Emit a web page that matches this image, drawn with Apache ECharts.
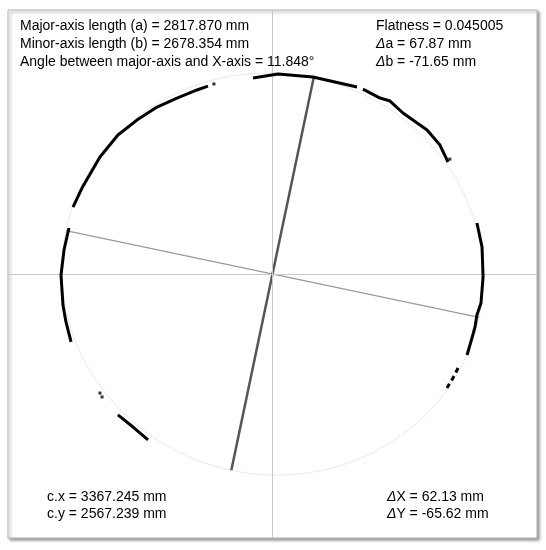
<!DOCTYPE html>
<html>
<head>
<meta charset="utf-8">
<script src="https://cdn.jsdelivr.net/npm/echarts@6/dist/echarts.min.js"></script>
<style>
  html, body { margin: 0; padding: 0; background: #fff; }
  #chart { width: 546px; height: 550px; }
</style>
</head>
<body>
<div id="chart"></div>
<script>
// ellipse fit results (mm)
var majorLen = 2817.870;
var minorLen = 2678.354;
var angleDeg = 11.848;

// measured points, mm relative to fitted centre (y grows downward)
var arcTop1 = [[-130, -1309], [37, -1335], [270, -1315], [564, -1249]];
var arcTop2 = [[604, -1235], [718, -1175], [785, -1155], [871, -1075], [1032, -961], [1118, -861], [1172, -748]];
var arcUpperLeft = [[-1332, -447], [-1272, -574], [-1152, -781], [-1032, -928], [-905, -1028], [-771, -1115], [-638, -1175], [-504, -1229], [-431, -1255]];
var arcLeft = [[-1359, -307], [-1392, -160], [-1412, 7], [-1399, 207], [-1379, 320], [-1345, 454]];
var arcRight = [[1365, -341], [1399, -180], [1406, 20], [1392, 194], [1365, 274], [1352, 354], [1332, 427], [1299, 541]];
var arcRightLower = [[1239, 628], [1205, 694], [1165, 761]];
var arcLowerLeft = [[-1032, 941], [-931, 1022], [-831, 1108]];
var loneDots = [[1184, -767], [-391, -1269], [-1152, 795], [-1138, 821]];

var leftLines = [
  "Major-axis length (a) = 2817.870 mm",
  "Minor-axis length (b) = 2678.354 mm",
  "Angle between major-axis and X-axis = 11.848°"
];
var rightLines = ["Flatness = 0.045005", "{d|Δ}a = 67.87 mm", "{d|Δ}b = -71.65 mm"];
var centreLines = ["c.x = 3367.245 mm", "c.y = 2567.239 mm"];
var deltaLines = ["{d|Δ}X = 62.13 mm", "{d|Δ}Y = -65.62 mm"];

var chart = echarts.init(document.getElementById("chart"));

var th = angleDeg * Math.PI / 180;
var a = majorLen / 2, b = minorLen / 2;

// fitted outline
var outline = [];
for (var t = 0; t <= 360; t += 2) {
  var r = t * Math.PI / 180;
  var u = a * Math.cos(r), v = b * Math.sin(r);
  outline.push([u * Math.cos(th) - v * Math.sin(th), u * Math.sin(th) + v * Math.cos(th)]);
}
var majorAxis = [[-a * Math.cos(th), -a * Math.sin(th)], [a * Math.cos(th), a * Math.sin(th)]];
var minorAxis = [[b * Math.sin(th), -b * Math.cos(th)], [-b * Math.sin(th), b * Math.cos(th)]];

var font = "'Liberation Sans', Arial, sans-serif";
var rich = { d: { fontStyle: "italic", fontSize: 14, fontFamily: font, fill: "#000" } };

function textItems(lines, x, y0, step) {
  return lines.map(function (s, i) {
    return {
      type: "text",
      left: x,
      top: y0 + i * step,
      z: 100,
      style: { text: s, fontSize: 14, fontFamily: font, fill: "#000", rich: rich }
    };
  });
}

var arcs = [arcTop1, arcTop2, arcUpperLeft, arcLeft, arcRight, arcLowerLeft];
var series = [
  {
    type: "line",
    data: outline,
    symbol: "none",
    silent: true,
    lineStyle: { color: "#d4d4d4", width: 1, type: "dotted" },
    markLine: {
      silent: true,
      symbol: "none",
      label: { show: false },
      lineStyle: { color: "#c8c8c8", width: 1, type: "solid" },
      data: [{ xAxis: 0 }, { yAxis: 0 }]
    }
  },
  {
    type: "line",
    data: majorAxis,
    symbol: "none",
    lineStyle: { color: "#9a9a9a", width: 1.3 }
  },
  {
    type: "line",
    data: minorAxis,
    symbol: "none",
    lineStyle: { color: "#555", width: 2.5 }
  }
];
arcs.forEach(function (arc) {
  series.push({
    type: "line",
    data: arc,
    symbol: "none",
    z: 5,
    lineStyle: { color: "#000", width: 3, join: "round" }
  });
});
series.push({
  type: "line",
  data: arcRightLower,
  symbol: "none",
  z: 5,
  lineStyle: { color: "#000", width: 3, type: [5, 4] }
});
series.push({
  type: "scatter",
  data: loneDots,
  symbol: "rect",
  symbolSize: 3,
  z: 5,
  itemStyle: { color: "#000" }
});

var option = {
  animation: false,
  grid: {
    left: 8, top: 10, width: 529, height: 528,
    show: true,
    backgroundColor: "#fff",
    borderColor: "#b4b4b4",
    borderWidth: 1,
    shadowColor: "rgba(0,0,0,0.4)",
    shadowBlur: 3,
    shadowOffsetX: 2,
    shadowOffsetY: 2
  },
  xAxis: {
    type: "value", min: -1766, max: 1766,
    axisLine: { show: false }, axisTick: { show: false },
    axisLabel: { show: false }, splitLine: { show: false }
  },
  yAxis: {
    type: "value", min: -1763, max: 1763, inverse: true,
    axisLine: { show: false }, axisTick: { show: false },
    axisLabel: { show: false }, splitLine: { show: false }
  },
  graphic: [].concat(
    textItems(leftLines, 20, 19, 18),
    textItems(rightLines, 376, 19, 18),
    textItems(centreLines, 47, 490, 17),
    textItems(deltaLines, 387, 490, 17)
  ),
  series: series
};

chart.setOption(option);
</script>
</body>
</html>
